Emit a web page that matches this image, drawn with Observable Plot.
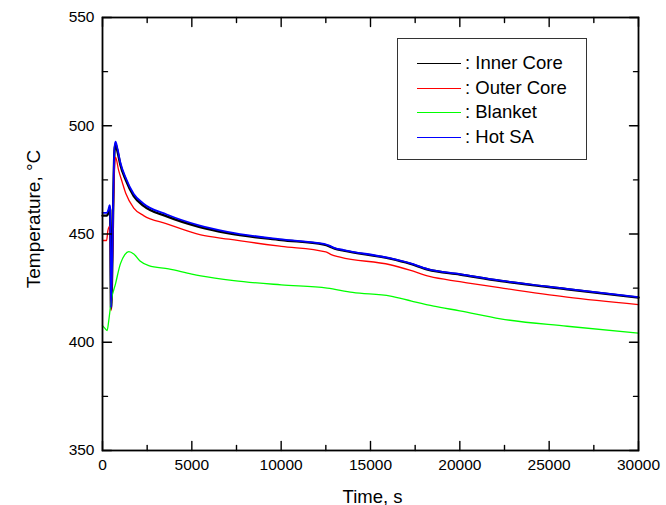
<!DOCTYPE html>
<html>
<head>
<meta charset="utf-8">
<script src="https://cdn.jsdelivr.net/npm/d3@7"></script>
<script src="https://cdn.jsdelivr.net/npm/@observablehq/plot@0.6"></script>
<style>
  html, body { margin: 0; padding: 0; background: #fff; }
  #wrap { position: relative; width: 666px; height: 505px; font-family: "Liberation Sans", Arial, sans-serif; }
  #legend { position: absolute; left: 397px; top: 38px; width: 190px; height: 122px; border: 1px solid #333; background: #fff; box-sizing: border-box; }
  .row { position: absolute; left: 0; height: 20px; }
  .sw { position: absolute; left: 19px; width: 44px; height: 0; border-top: 1.2px solid; }
  .lab { position: absolute; left: 67px; font-size: 18.5px; line-height: 18px; white-space: nowrap; color: #000; }
</style>
</head>
<body>
<div id="wrap"><div id="legend"></div></div>
<script>
// Series data (time in s, temperature in °C)
const innerTime = [0, 250, 320, 400, 430, 475, 672, 730, 850, 1000, 1300, 1750, 2300, 3600, 5400, 7000, 10000, 12400, 12700, 13000, 13500, 16100, 17200, 18200, 20000, 22300, 26000, 30000];
const innerTemp = [458.5, 458.5, 459.5, 462, 461, 415.5, 488.5, 491.5, 487.8, 482, 475, 467.5, 463, 458.1, 453.3, 450.4, 447.2, 445.1, 444.3, 443.2, 442.3, 438.6, 436.3, 433.6, 431.3, 428.3, 424.5, 420.6];

const outerTime = [0, 230, 300, 400, 430, 475, 672, 730, 900, 1100, 1300, 1750, 2300, 3600, 5500, 7070, 10000, 12500, 12800, 13300, 16100, 17200, 18300, 20000, 22300, 26000, 30000];
const outerTemp = [447, 447, 451.5, 453.5, 452, 414.5, 481, 485.5, 479.5, 474, 468.8, 462, 458.5, 454.7, 449.6, 447.6, 444.3, 441.7, 440.5, 439.3, 435.8, 433.3, 430.4, 428, 425.1, 420.8, 417.4];

const blanketTime = [0, 150, 260, 350, 490, 728, 1000, 1250, 1474, 1750, 2100, 2590, 3700, 5000, 5500, 7350, 10000, 12575, 14000, 16120, 17300, 18540, 20000, 22280, 26010, 30000];
const blanketTemp = [407.7, 406.3, 405.4, 410, 419.3, 427, 436.2, 440.5, 441.9, 440.8, 437.5, 435.4, 433.9, 431.5, 430.7, 428.5, 426.5, 425, 423, 421.3, 419, 416.7, 414.5, 410.8, 407.4, 404.2];

const hotTime = [0, 250, 320, 400, 430, 475, 672, 730, 850, 1000, 1300, 1750, 2300, 3600, 5400, 7000, 10000, 12400, 12700, 13000, 13500, 16100, 17200, 18200, 20000, 22300, 26000, 30000];
const hotTemp = [459.8, 459.8, 461, 463.3, 462, 416, 490, 492.6, 489, 483, 476, 468.5, 464, 459, 454, 451, 447.5, 445.4, 444.6, 443.5, 442.6, 438.8, 436.5, 433.8, 431.5, 428.5, 424.7, 420.8];

const seriesNames = ["Inner Core", "Outer Core", "Blanket", "Hot SA"];
const seriesColors = ["#000000", "#ff0000", "#00ff00", "#0000ff"];
const seriesWidths = [2.4, 1.3, 1.3, 1.8];

const xTicks = [0, 5000, 10000, 15000, 20000, 25000, 30000];
const xMinor = [2500, 7500, 12500, 17500, 22500, 27500];
const yTicks = [350, 400, 450, 500, 550];
const yMinor = [375, 425, 475, 525];

const toRows = (t, v) => t.map((x, i) => ({t: x, v: v[i]}));
const series = [
  toRows(innerTime, innerTemp),
  toRows(outerTime, outerTemp),
  toRows(blanketTime, blanketTemp),
  toRows(hotTime, hotTemp)
];

const tickShape = {draw(context, l) { context.moveTo(0, 0); context.lineTo(0, -l); }};
const tickMarks = [];
const addTicks = (vals, len) => {
  tickMarks.push(Plot.vector(vals, {x: 0, y: d => d, length: len, rotate: 90, anchor: "start", shape: tickShape, stroke: "#000", strokeWidth: 1.4}));
  tickMarks.push(Plot.vector(vals, {x: 30000, y: d => d, length: len, rotate: -90, anchor: "start", shape: tickShape, stroke: "#000", strokeWidth: 1.4}));
};
const addXTicks = (vals, len) => {
  tickMarks.push(Plot.vector(vals, {x: d => d, y: 350, length: len, rotate: 0, anchor: "start", shape: tickShape, stroke: "#000", strokeWidth: 1.4}));
  tickMarks.push(Plot.vector(vals, {x: d => d, y: 550, length: len, rotate: 180, anchor: "start", shape: tickShape, stroke: "#000", strokeWidth: 1.4}));
};
addTicks(yTicks, 9); addTicks(yMinor, 5);
addXTicks(xTicks, 9); addXTicks(xMinor, 5);

const chart = Plot.plot({
  width: 666,
  height: 505,
  marginLeft: 102,
  marginRight: 28,
  marginTop: 17,
  marginBottom: 55,
  style: {fontFamily: "'Liberation Sans', Arial, sans-serif", background: "#fff", overflow: "visible"},
  x: {domain: [0, 30000]},
  y: {domain: [350, 550]},
  marks: [
    Plot.axisX(xTicks, {tickSize: 0, tickPadding: 8, fontSize: 15.5, label: null, tickFormat: d => String(d), fill: "#000"}),
    Plot.axisY(yTicks, {tickSize: 0, tickPadding: 8, fontSize: 15.5, label: null, tickFormat: d => String(d), fill: "#000"}),
    ...series.map((s, i) => Plot.line(s, {x: "t", y: "v", stroke: seriesColors[i], strokeWidth: seriesWidths[i], curve: "monotone-x"})),
    Plot.frame({stroke: "#000", strokeWidth: 1.8}),
    ...tickMarks,
    Plot.text(["Time, s"], {frameAnchor: "bottom", textAnchor: "middle", lineAnchor: "bottom", dx: 2, dy: 52, fontSize: 18.5, fill: "#000"}),
    Plot.text(["Temperature, °C"], {frameAnchor: "left", textAnchor: "middle", lineAnchor: "middle", rotate: -90, dx: -69, dy: -15, fontSize: 19, fill: "#000"})
  ]
});
const wrap = document.getElementById("wrap");
wrap.insertBefore(chart, wrap.firstChild);

const legend = document.getElementById("legend");
const rowTops = [24, 49, 73, 98];
seriesNames.forEach((name, i) => {
  const row = document.createElement("div");
  row.className = "row";
  row.style.top = (rowTops[i] - 10) + "px";
  row.style.width = "100%";
  const sw = document.createElement("div");
  sw.className = "sw";
  sw.style.top = "10px";
  sw.style.borderTopColor = seriesColors[i];
  const lab = document.createElement("div");
  lab.className = "lab";
  lab.style.top = "1px";
  lab.textContent = ": " + name;
  row.appendChild(sw); row.appendChild(lab);
  legend.appendChild(row);
});
</script>
</body>
</html>
